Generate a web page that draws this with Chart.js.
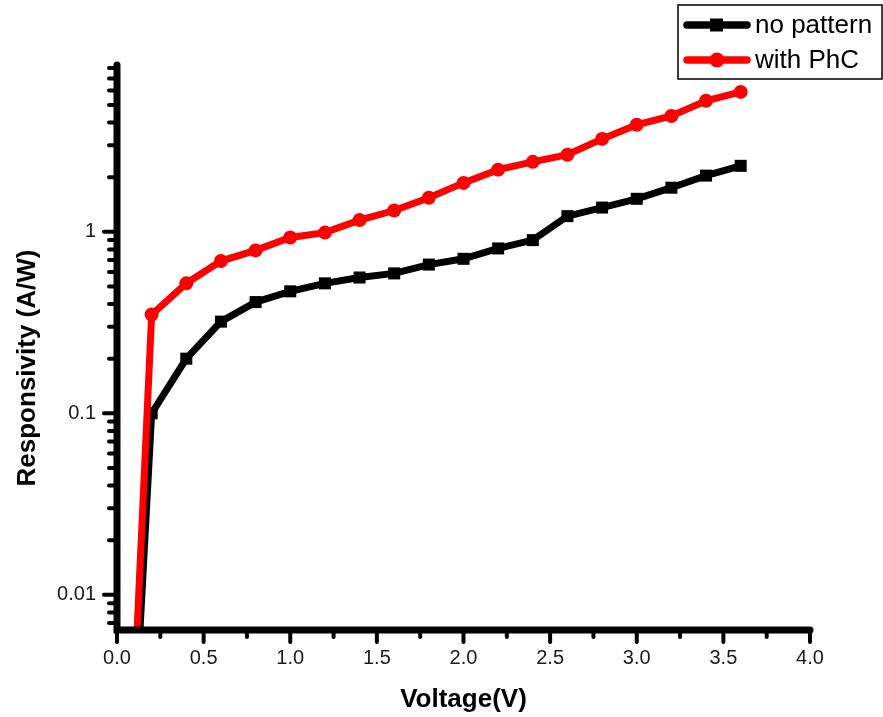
<!DOCTYPE html>
<html>
<head>
<meta charset="utf-8">
<script src="https://cdn.jsdelivr.net/npm/chart.js@4.4.1/dist/chart.umd.min.js"></script>
<style>
  html, body { margin: 0; padding: 0; background: #fff; }
  #wrap { width: 883px; height: 717px; position: relative; }
</style>
</head>
<body>
<div id="wrap"><canvas id="chart"></canvas></div>
<script>
// ─── Data ───────────────────────────────────────────────────────────────────
const VOLTAGE = [0.1, 0.2, 0.4, 0.6, 0.8, 1.0, 1.2, 1.4, 1.6, 1.8, 2.0, 2.2, 2.4, 2.6, 2.8, 3.0, 3.2, 3.4, 3.6];
const NO_PATTERN = [0.0017, 0.10, 0.20, 0.32, 0.41, 0.47, 0.52, 0.56, 0.59, 0.66, 0.71, 0.81, 0.90, 1.22, 1.36, 1.52, 1.75, 2.04, 2.31];
const WITH_PHC = [0.003, 0.35, 0.52, 0.69, 0.79, 0.93, 0.99, 1.16, 1.31, 1.54, 1.86, 2.20, 2.43, 2.66, 3.25, 3.89, 4.35, 5.27, 5.90];

const SERIES_LABELS = ['no pattern', 'with PhC'];
const X_MAJOR = [0.0, 0.5, 1.0, 1.5, 2.0, 2.5, 3.0, 3.5, 4.0];
const Y_MAJOR = [0.01, 0.1, 1];
const Y_TITLE = 'Responsivity (A/W)';

const FONT = 'Liberation Sans, Arial, sans-serif';

// minor ticks: halfway between x majors, 2..9 within each y decade
const X_TICKS = [];
X_MAJOR.forEach((v, i) => {
  X_TICKS.push({ value: v, major: true });
  if (i < X_MAJOR.length - 1) X_TICKS.push({ value: v + 0.25, major: false });
});
const Y_TICKS = [];
[0.001, 0.01, 0.1, 1].forEach(dec => {
  for (let m = 1; m <= 9; m++) {
    const v = +(dec * m).toPrecision(3);
    if (v < 0.0064 || v > 8.3) continue;
    Y_TICKS.push({ value: v, major: Y_MAJOR.includes(v) });
  }
});

// ─── Axes, ticks, y title and legend drawn by hand (Origin style) ───────────
const originStyle = {
  id: 'originStyle',
  afterDatasetsDraw(chart) {
    const { ctx, chartArea: a, scales: { x, y } } = chart;
    ctx.save();
    ctx.strokeStyle = '#000';
    ctx.lineCap = 'round';

    // ticks
    ctx.lineWidth = 4;
    for (const t of Y_TICKS) {
      const py = y.getPixelForValue(t.value);
      ctx.beginPath();
      ctx.moveTo(a.left, py);
      ctx.lineTo(a.left - (t.major ? 13 : 8), py);
      ctx.stroke();
    }
    for (const t of X_TICKS) {
      const px = x.getPixelForValue(t.value);
      ctx.beginPath();
      ctx.moveTo(px, a.bottom);
      ctx.lineTo(px, a.bottom + (t.major ? 12 : 7));
      ctx.stroke();
    }

    // axis lines
    ctx.lineWidth = 7;
    ctx.beginPath();
    ctx.moveTo(a.left, a.top);
    ctx.lineTo(a.left, a.bottom);
    ctx.lineTo(a.right, a.bottom);
    ctx.stroke();

    // y title (Origin centres it a bit below the plot middle)
    ctx.save();
    ctx.translate(28, 368);
    ctx.rotate(-Math.PI / 2);
    ctx.font = 'bold 26px ' + FONT;
    ctx.fillStyle = '#000';
    ctx.textAlign = 'center';
    ctx.textBaseline = 'middle';
    ctx.fillText(Y_TITLE, 0, 0);
    ctx.restore();

    // legend box
    ctx.lineCap = 'butt';
    ctx.lineWidth = 1.5;
    ctx.strokeRect(678, 5, 204, 74);
    const rows = [
      { label: SERIES_LABELS[0], color: '#000', shape: 'rect', y: 25 },
      { label: SERIES_LABELS[1], color: '#ff0000', shape: 'circle', y: 60 },
    ];
    ctx.font = '26px ' + FONT;
    ctx.textBaseline = 'middle';
    for (const r of rows) {
      ctx.strokeStyle = r.color;
      ctx.fillStyle = r.color;
      ctx.lineWidth = 7.5;
      ctx.lineCap = 'round';
      ctx.beginPath();
      ctx.moveTo(687, r.y);
      ctx.lineTo(747, r.y);
      ctx.stroke();
      if (r.shape === 'rect') ctx.fillRect(710, r.y - 6.5, 13, 13);
      else { ctx.beginPath(); ctx.arc(717, r.y, 7.5, 0, Math.PI * 2); ctx.fill(); }
      ctx.fillStyle = '#000';
      ctx.fillText(r.label, 755, r.y + 1);
    }
    ctx.restore();
  }
};

new Chart(document.getElementById('chart'), {
  type: 'line',
  data: {
    labels: VOLTAGE,
    datasets: [
      {
        label: SERIES_LABELS[0],
        data: VOLTAGE.map((v, i) => ({ x: v, y: NO_PATTERN[i] })),
        borderColor: '#000',
        backgroundColor: '#000',
        borderWidth: 7,
        pointStyle: 'rect',
        pointRadius: 8.5,
        pointBorderWidth: 0,
        order: 1,
      },
      {
        label: SERIES_LABELS[1],
        data: VOLTAGE.map((v, i) => ({ x: v, y: WITH_PHC[i] })),
        borderColor: '#ff0000',
        backgroundColor: '#ff0000',
        borderWidth: 7,
        pointStyle: 'circle',
        pointRadius: 7,
        pointBorderWidth: 0,
        order: 0,
      },
    ],
  },
  options: {
    responsive: true,
    maintainAspectRatio: false,
    animation: false,
    events: [],
    layout: { padding: { left: 0, top: 65, right: 73, bottom: 0 } },
    plugins: { legend: { display: false }, tooltip: { enabled: false } },
    scales: {
      x: {
        type: 'linear',
        min: 0,
        max: 4,
        afterBuildTicks: s => { s.ticks = X_TICKS.map(t => ({ ...t })); },
        afterFit: s => { s.height = 87; },
        grid: { display: false, drawTicks: false },
        border: { display: false },
        ticks: {
          autoSkip: false,
          maxRotation: 0,
          padding: 16,
          color: '#1a1a1a',
          font: { family: FONT, size: 20 },
          callback: v => (X_MAJOR.includes(v) ? v.toFixed(1) : ''),
        },
        title: {
          display: true,
          text: 'Voltage(V)',
          color: '#000',
          font: { family: FONT, size: 26, weight: 'bold' },
          padding: { top: 0, bottom: 2 },
        },
      },
      y: {
        type: 'logarithmic',
        min: 0.0064,
        max: 8.3,
        afterBuildTicks: s => { s.ticks = Y_TICKS.map(t => ({ ...t })); },
        afterFit: s => { s.width = 117; },
        grid: { display: false, drawTicks: false },
        border: { display: false },
        ticks: {
          autoSkip: false,
          padding: 21,
          color: '#1a1a1a',
          font: { family: FONT, size: 20 },
          callback: v => (Y_MAJOR.includes(v) ? String(v) : ''),
        },
        title: { display: false },
      },
    },
  },
  plugins: [originStyle],
});
</script>
</body>
</html>
